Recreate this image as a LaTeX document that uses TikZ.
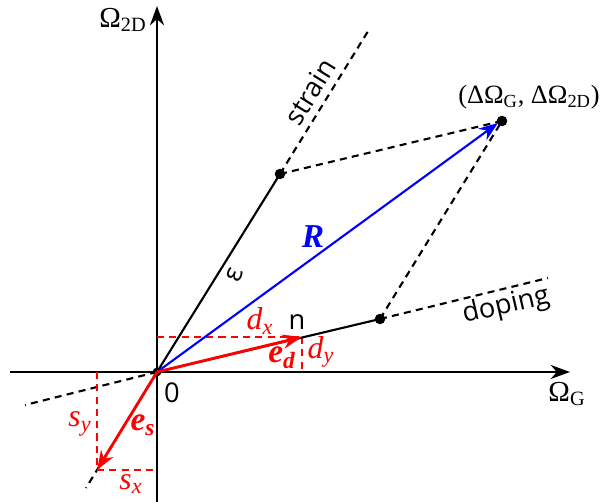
\documentclass[tikz,border=0pt]{standalone}
\usepackage{fontspec}
\setmainfont{Liberation Serif}
\newfontfamily\sansf{Open Sans}
\usetikzlibrary{arrows.meta}
\begin{document}
\begin{tikzpicture}[x=0.02cm,y=-0.02cm,
  axis/.style={line width=1.3pt,-{Stealth[length=11pt,width=8pt,inset=3.5pt]}},
  solidline/.style={line width=1.2pt},
  dashline/.style={line width=1.2pt,dash pattern=on 4pt off 3pt},
  reddash/.style={red,line width=1pt,dash pattern=on 4pt off 3pt},
  redarrow/.style={red,line width=1.6pt,-{Stealth[length=11pt,width=8pt,inset=3.5pt]}},
  bluearrow/.style={blue,line width=1.2pt,-{Stealth[length=11pt,width=8pt,inset=3.5pt]}},
  dot/.style={circle,fill=black,inner sep=0pt,minimum size=6pt},
  lbl/.style={inner sep=0pt,font=\fontsize{16.5}{20}\selectfont},
  slbl/.style={inner sep=0pt,font=\fontsize{15.5}{19}\selectfont\sansf},
  rlbl/.style={inner sep=0pt,text=red,font=\fontsize{18}{22}\selectfont\itshape},
  rblbl/.style={inner sep=0pt,text=red,font=\fontsize{19}{23}\selectfont\bfseries\itshape}
]
\useasboundingbox (0,0) rectangle (602,502);
% points
\coordinate (O) at (157,372);
\coordinate (xa0) at (10,372);
\coordinate (xa1) at (570,372);
\coordinate (ya0) at (157,502);
\coordinate (ya1) at (157,6);
\coordinate (st1) at (370,28);
\coordinate (st0) at (86,488);
\coordinate (dp1) at (548,278);
\coordinate (dp0) at (25,405);
\coordinate (Ed) at (302,337);
\coordinate (Es) at (97,470);
\coordinate (EdX) at (157,337);
\coordinate (EdY) at (302,372);
\coordinate (EsX) at (157,470);
\coordinate (EsY) at (97,372);
% axes
\draw[axis] (xa0) -- (xa1);
\draw[axis] (ya0) -- (ya1);
% dashed guide lines
\draw[dashline] (O) -- (st0);
\draw[dashline] (O) -- (dp0);
% red components
\draw[reddash] (EdX) -- (Ed);
\draw[reddash] (Ed) -- (EdY);
\draw[reddash] (EsY) -- (Es);
\draw[reddash] (Es) -- (EsX);
% dots
\node[dot] (S) at (280,174) {};
\node[dot] (D) at (380,319) {};
\node[dot] (P) at (502,121) {};
\node[dot,minimum size=5pt] (Od) at (O) {};
% solid and dashed lines
\draw[solidline] (O) -- (S.center);
\draw[solidline] (O) -- (D.center);
\draw[dashline] (S.center) -- (st1);
\draw[dashline] (D.center) -- (dp1);
\draw[dashline] (S.center) -- (P.center);
\draw[dashline] (D.center) -- (P.center);
% R
\draw[bluearrow] (O) -- (498,123);
% red vectors
\draw[redarrow] (O) -- (Ed);
\draw[redarrow] (O) -- (Es);
% labels
\node[lbl] (lOy) at (123,20) {Ω\textsubscript{2D}};
\node[lbl] (lOx) at (567,394) {Ω\textsubscript{G}};
\node[lbl,font=\fontsize{15}{18}\selectfont] (lP) at (529,97) {(ΔΩ\textsubscript{G}, ΔΩ\textsubscript{2D})};
\node[slbl] (l0) at (172,393) {0};
\node[slbl] (ln) at (297,322) {n};
\node[slbl,rotate=70] (leps) at (235,275) {ε};
\node[slbl,rotate=58] (lstrain) at (310,92) {strain};
\node[slbl,rotate=13] (ldoping) at (506,306) {doping};
\node[inner sep=0pt,text=blue,font=\fontsize{19}{23}\selectfont\bfseries\itshape] (lR) at (313,237) {R};
\node[rlbl] (ldx) at (260,321) {d\textsubscript{x}};
\node[rlbl] (ldy) at (321,352) {d\textsubscript{y}};
\node[rblbl] (led) at (282,358) {e\textsubscript{d}};
\node[rblbl] (les) at (143,425) {e\textsubscript{s}};
\node[rlbl] (lsy) at (80,424) {s\textsubscript{y}};
\node[rlbl] (lsx) at (131,484) {s\textsubscript{x}};
\end{tikzpicture}
\end{document}
